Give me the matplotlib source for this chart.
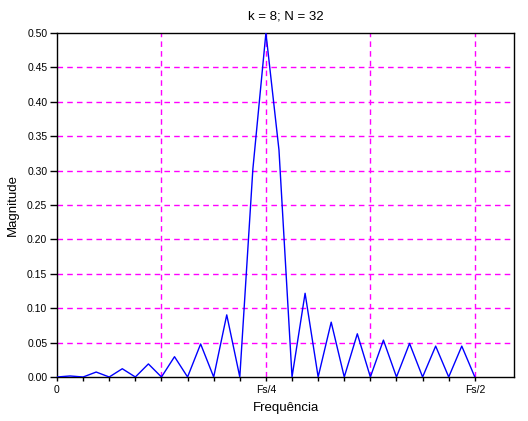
import numpy as np
import matplotlib
matplotlib.use("Agg")
import matplotlib.pyplot as plt
from matplotlib.ticker import MultipleLocator, FixedLocator, FormatStrFormatter

# DFT bins 0..32 (half spectrum, zero-padded to 64 points)
bins = np.arange(33)
magnitude = [
    0.000, 0.0015, 0.000, 0.0072, 0.000, 0.0120, 0.000, 0.0190,
    0.000, 0.0295, 0.000, 0.0480, 0.000, 0.0903, 0.000, 0.302,
    0.500, 0.330, 0.000, 0.1217, 0.000, 0.0797, 0.000, 0.0628,
    0.000, 0.0536, 0.000, 0.0488, 0.000, 0.0449, 0.000, 0.0449,
    0.000,
]
tick_pos = [0, 16, 32]
tick_labels = ["0", "Fs/4", "Fs/2"]
minor_ticks = list(range(0, 33, 2))
grid_x = [8, 16, 24, 32]

plt.rcParams["font.family"] = ["Liberation Sans", "DejaVu Sans"]

fig = plt.figure(figsize=(5.28, 4.21), dpi=100)
ax = fig.add_axes([57 / 528, 44 / 421, 457 / 528, 344 / 421])

ax.plot(bins, magnitude, color="#0000ff", lw=1.0, zorder=3)

ax.set_xlim(0, 35)
ax.set_ylim(0, 0.5)

ax.yaxis.set_major_locator(MultipleLocator(0.05))
ax.yaxis.set_major_formatter(FormatStrFormatter("%.2f"))
ax.set_xticks(tick_pos)
ax.set_xticklabels(tick_labels)
ax.xaxis.set_minor_locator(FixedLocator(minor_ticks))

ax.tick_params(axis="x", which="both", direction="out", length=3,
               width=1, labelsize=7.5, pad=3, color="black")
ax.tick_params(axis="y", which="both", direction="out", length=5,
               width=1, labelsize=7.5, pad=2, color="black")

# magenta dashed grid
for gx in grid_x:
    ax.axvline(gx, color="#ff00ff", lw=1, ls=(0, (4, 3)), zorder=1)
for gy in np.arange(0.05, 0.5, 0.05):
    ax.axhline(gy, color="#ff00ff", lw=1, ls=(0, (4, 3)), zorder=1)

for sp in ax.spines.values():
    sp.set_linewidth(1)
    sp.set_color("black")

ax.set_xlabel("Frequência", fontsize=9.5, labelpad=5)
ax.set_ylabel("Magnitude", fontsize=9.5, labelpad=6)
ax.set_title("k = 8; N = 32", fontsize=9.5, pad=10)

fig.savefig("out.png", dpi=100)
